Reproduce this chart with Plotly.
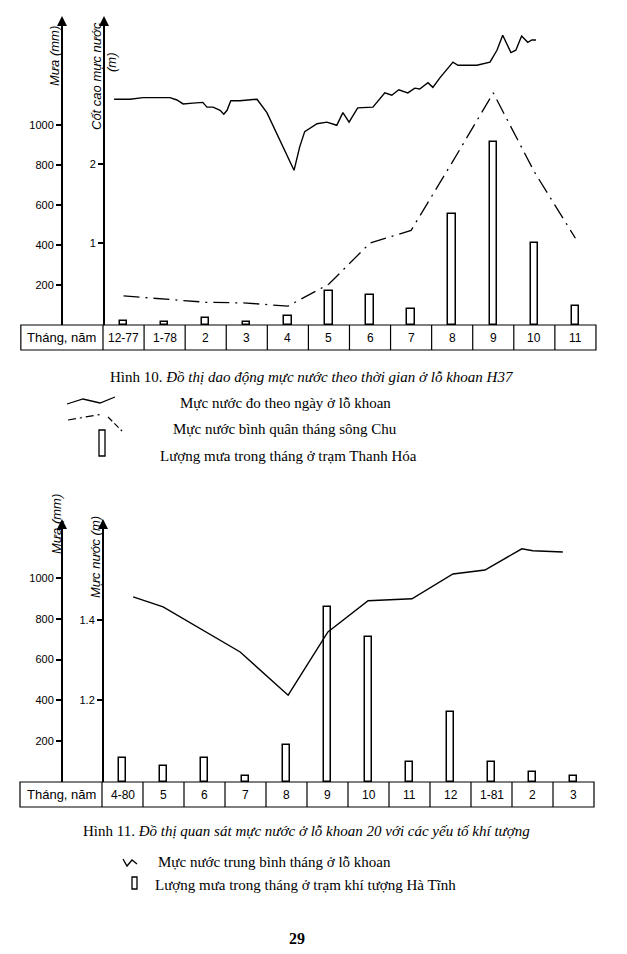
import plotly.graph_objects as go

W, H = 627, 954

# ---------------- DATA: Hình 10 (H37) ----------------
months1 = ["12-77", "1-78", "2", "3", "4", "5", "6", "7", "8", "9", "10", "11"]
rain1 = [20, 15, 35, 15, 45, 170, 150, 80, 555, 915, 410, 95]          # mm
river1 = [0.33, 0.29, 0.25, 0.24, 0.20, 0.48, 1.00, 1.16, 2.02, 2.90, 1.90, 1.06]  # m
daily_t = [0.27, 0.66, 0.97, 1.31, 1.63, 1.80, 1.95, 2.19, 2.43, 2.53, 2.68, 2.85,
           2.94, 3.02, 3.11, 3.33, 3.75, 3.99, 4.65, 4.79, 4.91, 5.21, 5.45, 5.69,
           5.84, 5.99, 6.20, 6.57, 6.86, 7.03, 7.20, 7.42, 7.59, 7.71, 7.91, 8.03,
           8.20, 8.52, 8.64, 9.10, 9.42, 9.59, 9.73, 9.93, 10.05, 10.19, 10.34,
           10.44, 10.54]
daily_h = [2.82, 2.82, 2.84, 2.84, 2.84, 2.81, 2.76, 2.77, 2.78, 2.72, 2.72, 2.68,
           2.63, 2.68, 2.80, 2.80, 2.82, 2.65, 1.92, 2.22, 2.41, 2.51, 2.53, 2.49,
           2.65, 2.53, 2.71, 2.72, 2.90, 2.87, 2.94, 2.90, 2.96, 2.95, 3.03, 2.97,
           3.09, 3.29, 3.25, 3.25, 3.29, 3.44, 3.63, 3.41, 3.44, 3.62, 3.54,
           3.57, 3.57]
rain_ticks1 = [200, 400, 600, 800, 1000]
level_ticks1 = [1, 2]

# ---------------- DATA: Hình 11 (lỗ khoan 20) ----------------
months2 = ["4-80", "5", "6", "7", "8", "9", "10", "11", "12", "1-81", "2", "3"]
rain2 = [120, 78, 118, 29, 181, 858, 711, 98, 343, 98, 49, 29]
well2_t = [0.76, 1.49, 3.37, 4.54, 5.51, 6.49, 7.56, 8.56, 9.34, 10.24, 10.51, 11.24]
well2_h = [1.458, 1.433, 1.32, 1.212, 1.37, 1.448, 1.453, 1.515, 1.525, 1.578, 1.573, 1.57]
rain_ticks2 = [200, 400, 600, 800, 1000]
level_ticks2 = [1.2, 1.4]


def fx(p):
    return p / W


def fy(p):
    return 1 - p / H


fig = go.Figure()
centers1 = [i + 0.5 for i in range(len(months1))]
centers2 = [i + 0.5 for i in range(len(months2))]

# bars
fig.add_trace(go.Bar(x=centers1, y=rain1, width=0.18, xaxis="x", yaxis="y",
                     marker=dict(color="white", line=dict(color="black", width=1.5)),
                     showlegend=False))
fig.add_trace(go.Bar(x=centers2, y=rain2, width=0.16, xaxis="x2", yaxis="y3",
                     marker=dict(color="white", line=dict(color="black", width=1.5)),
                     showlegend=False))
# lines
fig.add_trace(go.Scatter(x=daily_t, y=daily_h, mode="lines", xaxis="x", yaxis="y2",
                         line=dict(color="black", width=1.4), showlegend=False))
fig.add_trace(go.Scatter(x=centers1, y=river1, mode="lines", xaxis="x", yaxis="y2",
                         line=dict(color="black", width=1.3, dash="16px,6px,2px,6px"),
                         showlegend=False))
fig.add_trace(go.Scatter(x=well2_t, y=well2_h, mode="lines", xaxis="x2", yaxis="y4",
                         line=dict(color="black", width=1.4), showlegend=False))

tickfont = dict(family="Liberation Sans", size=11, color="black")
yax_common = dict(showgrid=False, zeroline=False, showline=True, linecolor="black",
                  linewidth=2, ticks="outside", ticklen=5, tickwidth=1.5,
                  tickcolor="black", tickfont=tickfont, anchor="free")

top1, base1 = 18, 325
top2, base2 = 521, 782
fig.update_layout(
    width=W, height=H, margin=dict(l=0, r=0, t=0, b=0),
    paper_bgcolor="white", plot_bgcolor="rgba(0,0,0,0)",
    bargap=0,
    xaxis=dict(domain=[0, 1], range=[-103 / 41.08, (W - 103) / 41.08], visible=False,
               anchor="y"),
    yaxis=dict(domain=[fy(base1), fy(top1)], range=[0, (base1 - top1) / 0.2],
               tickvals=rain_ticks1, position=fx(62), **yax_common),
    yaxis2=dict(domain=[fy(base1), fy(top1)], overlaying="y",
                range=[(322 - base1) / 79, (322 - top1) / 79],
                tickvals=level_ticks1, position=fx(104), **yax_common),
    xaxis2=dict(domain=[0, 1], range=[-102 / 41.0, (W - 102) / 41.0], visible=False,
                anchor="y3"),
    yaxis3=dict(domain=[fy(base2), fy(top2)], range=[0, (base2 - top2) / 0.204],
                tickvals=rain_ticks2, position=fx(62), **yax_common),
    yaxis4=dict(domain=[fy(base2), fy(top2)], overlaying="y3",
                range=[1.4 + (620 - base2) / 400, 1.4 + (620 - top2) / 400],
                tickvals=level_ticks2, tickformat=".1f", position=fx(103), **yax_common),
)

shapes = []
anns = []


def ann(x, y, text, font, xref="paper", xanchor="center", angle=0):
    anns.append(dict(xref=xref, yref="paper", x=x, y=y, text=text, showarrow=False,
                     font=font, xanchor=xanchor, yanchor="middle", textangle=angle))


def table(xref, labels, ytop, ybot):
    n = len(labels)
    shapes.append(dict(type="rect", xref=xref, yref="paper", x0=-2, x1=n,
                       y0=fy(ybot), y1=fy(ytop), line=dict(color="black", width=1.2)))
    for i in range(0, n):
        shapes.append(dict(type="line", xref=xref, yref="paper", x0=i, x1=i,
                           y0=fy(ybot), y1=fy(ytop), line=dict(color="black", width=1.2)))
    ann(-1, fy((ytop + ybot) / 2), "Tháng, năm",
        dict(family="Liberation Sans", size=13, color="black"), xref=xref)
    for i, lab in enumerate(labels):
        ann(i + 0.5, fy((ytop + ybot) / 2), lab,
            dict(family="Liberation Sans", size=12, color="black"), xref=xref)


table("x", months1, 325, 350)
table("x2", months2, 782, 807)

# arrows on axis tops
for xp, yp in [(62, top1), (104, top1), (62, top2), (103, top2)]:
    anns.append(dict(xref="paper", yref="paper", x=fx(xp), y=fy(yp - 2), ax=0, ay=12,
                     showarrow=True, arrowhead=2, arrowsize=1, arrowwidth=2,
                     arrowcolor="black", text=""))

# axis titles
tf = dict(family="Liberation Sans", size=13, color="black")
ann(fx(54), fy(56), "<i>Mưa (mm)</i>", tf, angle=-90)
ann(fx(96), fy(76), "<i>Cốt cao mực nước</i>", tf, angle=-90)
ann(fx(111), fy(62), "<i>(m)</i>", tf, angle=-90)
ann(fx(56), fy(524), "<i>Mưa (mm)</i>", tf, angle=-90)
ann(fx(95), fy(557), "<i>Mực nước (m)</i>", tf, angle=-90)

# captions and legends (serif)
sf = dict(family="Liberation Serif", size=15, color="black")
ann(fx(312), fy(377), "Hình 10. <i>Đồ thị dao động mực nước theo thời gian ở lỗ khoan H37</i>", sf)
ann(fx(285), fy(403), "Mực nước đo theo ngày ở lỗ khoan", sf)
ann(fx(285), fy(429), "Mực nước bình quân tháng sông Chu", sf)
ann(fx(288), fy(456), "Lượng mưa trong tháng ở trạm Thanh Hóa", sf)
ann(fx(306), fy(831),
    "Hình 11. <i>Đồ thị quan sát mực nước ở lỗ khoan 20 với các yếu tố khí tượng</i>", sf)
ann(fx(156), fy(862), "Mực nước trung bình tháng ở lỗ khoan", sf, xanchor="left")
ann(fx(153), fy(885), "Lượng mưa trong tháng ở trạm khí tượng Hà Tĩnh", sf, xanchor="left")
ann(fx(297), fy(938), "<b>29</b>", dict(family="Liberation Serif", size=16, color="black"))


def path(pts):
    return "M " + " L ".join(f"{fx(a)},{fy(b)}" for a, b in pts)


shapes += [
    dict(type="path", xref="paper", yref="paper",
         path=path([(67, 404), (83, 399), (100, 403), (115, 397)]),
         line=dict(color="black", width=1.3)),
    dict(type="path", xref="paper", yref="paper",
         path=path([(68, 420), (103, 414)]),
         line=dict(color="black", width=1.2, dash="8px,4px,2px,4px")),
    dict(type="path", xref="paper", yref="paper",
         path=path([(108, 417), (122, 431)]),
         line=dict(color="black", width=1.2, dash="6px,3px")),
    dict(type="rect", xref="paper", yref="paper", x0=fx(99), x1=fx(105),
         y0=fy(456), y1=fy(430), line=dict(color="black", width=1.3)),
    dict(type="path", xref="paper", yref="paper",
         path=path([(123, 859), (127, 866), (132, 860), (137, 864)]),
         line=dict(color="black", width=1.3)),
    dict(type="rect", xref="paper", yref="paper", x0=fx(132), x1=fx(137),
         y0=fy(889), y1=fy(877), line=dict(color="black", width=1.3)),
]

fig.update_layout(shapes=shapes, annotations=anns)
fig.write_html("out.html", config={"displayModeBar": False},
               post_script="document.body.style.margin='0';")
